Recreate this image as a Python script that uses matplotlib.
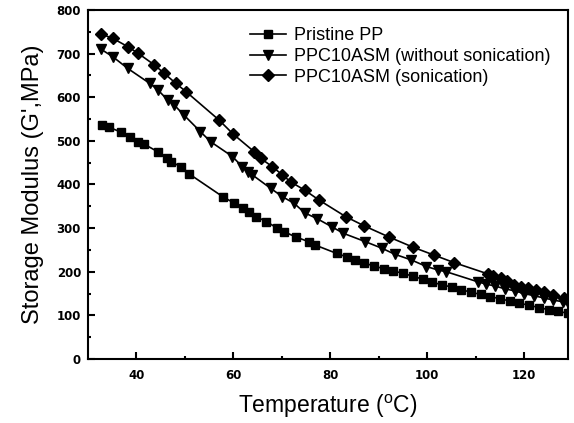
import matplotlib
matplotlib.use("Agg")
import matplotlib.pyplot as plt

plt.rcParams.update({
    "font.family": ["Liberation Sans", "DejaVu Sans"],
    "mathtext.fontset": "custom",
    "mathtext.rm": "Liberation Sans",
})

# Pristine PP (squares)
temp_pp = [32.9, 34.4, 36.8, 38.6, 40.3, 41.5, 44.4, 46.3, 47.2, 49.1,
           50.9, 57.8, 60.2, 61.9, 63.2, 64.7, 66.8, 69.0, 70.4, 72.8,
           75.5, 76.9, 81.3, 83.4, 85, 87, 89, 91, 93, 95,
           97, 99, 101, 103, 105, 107, 109, 111, 113, 115,
           117, 119, 121, 123, 125, 127, 129]
mod_pp = [536, 531, 520, 508, 498, 493, 475, 460, 452, 441,
          424, 372, 357, 345, 338, 326, 315, 300, 292, 280,
          269, 261, 242, 234, 228, 220, 213, 207, 202, 196,
          190, 183, 176, 170, 165, 159, 153, 148, 143, 138,
          133, 128, 123, 118, 113, 109, 105]

# PPC10ASM without sonication (down triangles)
temp_ns = [32.7, 35.1, 38.2, 42.7, 44.4, 46.4, 47.8, 49.8, 53.2, 55.3,
           59.8, 61.8, 62.9, 63.9, 67.7, 70.1, 72.5, 74.7, 77.2, 80.3,
           82.7, 87.2, 90.6, 93.3, 96.7, 99.8, 102.2, 103.9, 110.4, 112,
           114, 116, 118, 120, 122, 124, 126, 128, 129]
mod_ns = [710, 693, 666, 632, 617, 594, 582, 559, 521, 498,
          464, 441, 429, 422, 391, 372, 357, 335, 322, 303,
          288, 269, 254, 240, 227, 212, 204, 200, 177, 172,
          167, 161, 156, 150, 145, 140, 135, 131, 128]

# PPC10ASM with sonication (diamonds)
temp_s = [32.7, 35.1, 38.2, 40.3, 43.7, 45.7, 48.1, 50.2, 57.0, 59.9,
          64.3, 65.6, 68.0, 70.1, 71.8, 74.7, 77.7, 83.2, 87.0, 92.0,
          97.1, 101.4, 105.5, 112.5, 113.5, 115.2, 116.5, 117.9, 119.3, 120.7,
          122.4, 124.1, 126.0, 128.2]
mod_s = [745, 735, 716, 701, 674, 655, 632, 613, 548, 516,
         475, 460, 441, 422, 406, 387, 364, 326, 305, 280,
         256, 238, 221, 195, 191, 185, 178, 170, 166, 162,
         158, 154, 147, 139]

fig = plt.figure(figsize=(5.74, 4.23), dpi=100)
ax = fig.add_axes([0.1533, 0.1513, 0.8362, 0.8251])

ax.plot(temp_pp, mod_pp, color="black", lw=1.2, marker="s", ms=6,
        label="Pristine PP")
ax.plot(temp_ns, mod_ns, color="black", lw=1.2, marker="v", ms=7,
        label="PPC10ASM (without sonication)")
ax.plot(temp_s, mod_s, color="black", lw=1.2, marker="D", ms=6,
        label="PPC10ASM (sonication)")

ax.set_xlim(30, 129)
ax.set_ylim(0, 800)
ax.set_xticks([40, 60, 80, 100, 120])
ax.set_xticks([50, 70, 90, 110], minor=True)
ax.set_yticks(range(0, 801, 100))
ax.set_yticks(range(50, 800, 100), minor=True)

ax.tick_params(which="both", direction="in", top=False, right=False, width=1.5)
ax.tick_params(which="major", length=5)
ax.tick_params(which="minor", length=2.5)
ax.tick_params(axis="x", pad=7)
ax.tick_params(axis="y", pad=5)
for tick in ax.get_xticklabels() + ax.get_yticklabels():
    tick.set_fontfamily("DejaVu Sans")
    tick.set_fontweight("bold")
    tick.set_fontsize(8.5)

for spine in ax.spines.values():
    spine.set_linewidth(1.5)

ax.set_xlabel("Temperature ($^{\\rm o}$C)", fontsize=16.5, labelpad=8)
ax.set_ylabel("Storage Modulus (G',MPa)", fontsize=17, labelpad=9)

ax.legend(loc="upper left", bbox_to_anchor=(250 / 574, 0.935),
          bbox_transform=fig.transFigure, frameon=False, fontsize=13,
          handlelength=2.0, handletextpad=0.45, labelspacing=0.2,
          borderpad=0, borderaxespad=0)

fig.savefig("out.png", dpi=100)
